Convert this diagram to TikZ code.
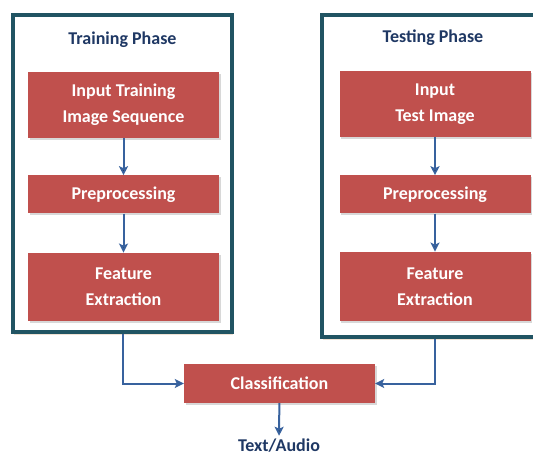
\documentclass[tikz,border=0pt]{standalone}
\usepackage{fontspec}
\setmainfont{Carlito}
\usepackage{tikz}
\usetikzlibrary{positioning, shadows}
\usetikzlibrary{arrows.meta}

\definecolor{boxred}{RGB}{192,80,77}
\definecolor{frameteal}{RGB}{33,84,99}
\definecolor{titleblue}{RGB}{31,56,100}
\definecolor{arrowblue}{RGB}{56,98,158}

\begin{document}
\begin{tikzpicture}[x=1pt,y=-1pt,->,>={Stealth[length=9pt,width=9pt,inset=2pt]},
                    font=\fontsize{18}{26}\selectfont\bfseries,
                    phasebox/.style={draw=frameteal,line width=4pt,fill=white,
                      drop shadow={shadow xshift=1pt,shadow yshift=-2.5pt,fill=brown!45}},
                    stage/.style={fill=boxred,text=white,align=center,inner sep=0pt,
                      minimum width=191pt,
                      drop shadow={shadow xshift=1.5pt,shadow yshift=-2pt,fill=black!30}},
                    heading/.style={text=titleblue},
                    flow/.style={draw=arrowblue,line width=2pt}]
   \useasboundingbox (0,0) rectangle (533,457);
   % the two phase frames
   \node[phasebox,minimum width=219pt,minimum height=317pt] (trainBox) at (122.5,173.5) {};
   \node[phasebox,minimum width=226pt,minimum height=322pt] (testBox) at (435,176) {};
   \node[heading] (trainTitle) at (122.5,40) {Training Phase};
   \node[heading] (testTitle) at (433,38) {Testing Phase};
   % training side
   \node[stage,minimum height=66pt] (trainInput) at (123.5,105) {Input Training\\Image Sequence};
   \node[stage,minimum height=38pt] (trainPre) [below=37pt of trainInput] {Preprocessing};
   \node[stage,minimum height=68pt] (trainFeat) [below=39pt of trainPre] {Feature\\Extraction};
   % testing side
   \node[stage,minimum height=66pt] (testInput) at (435,104) {Input\\Test Image};
   \node[stage,minimum height=38pt] (testPre) [below=38pt of testInput] {Preprocessing};
   \node[stage,minimum height=69pt] (testFeat) [below=38pt of testPre] {Feature\\Extraction};
   % output
   \node[stage,minimum height=39pt] (classify) at (279.5,383.5) {Classification};
   \node[heading] (result) at (279,446) {Text/Audio};
    \path[flow]
    (trainInput) edge (trainPre)
    (trainPre)   edge (trainFeat)
    (testInput)  edge (testPre)
    (testPre)    edge (testFeat)
    (classify)   edge (result);
    \draw[flow] (trainBox.south) |- (classify.west);
    \draw[flow] (testBox.south) |- (classify.east);
\end{tikzpicture}
\end{document}
